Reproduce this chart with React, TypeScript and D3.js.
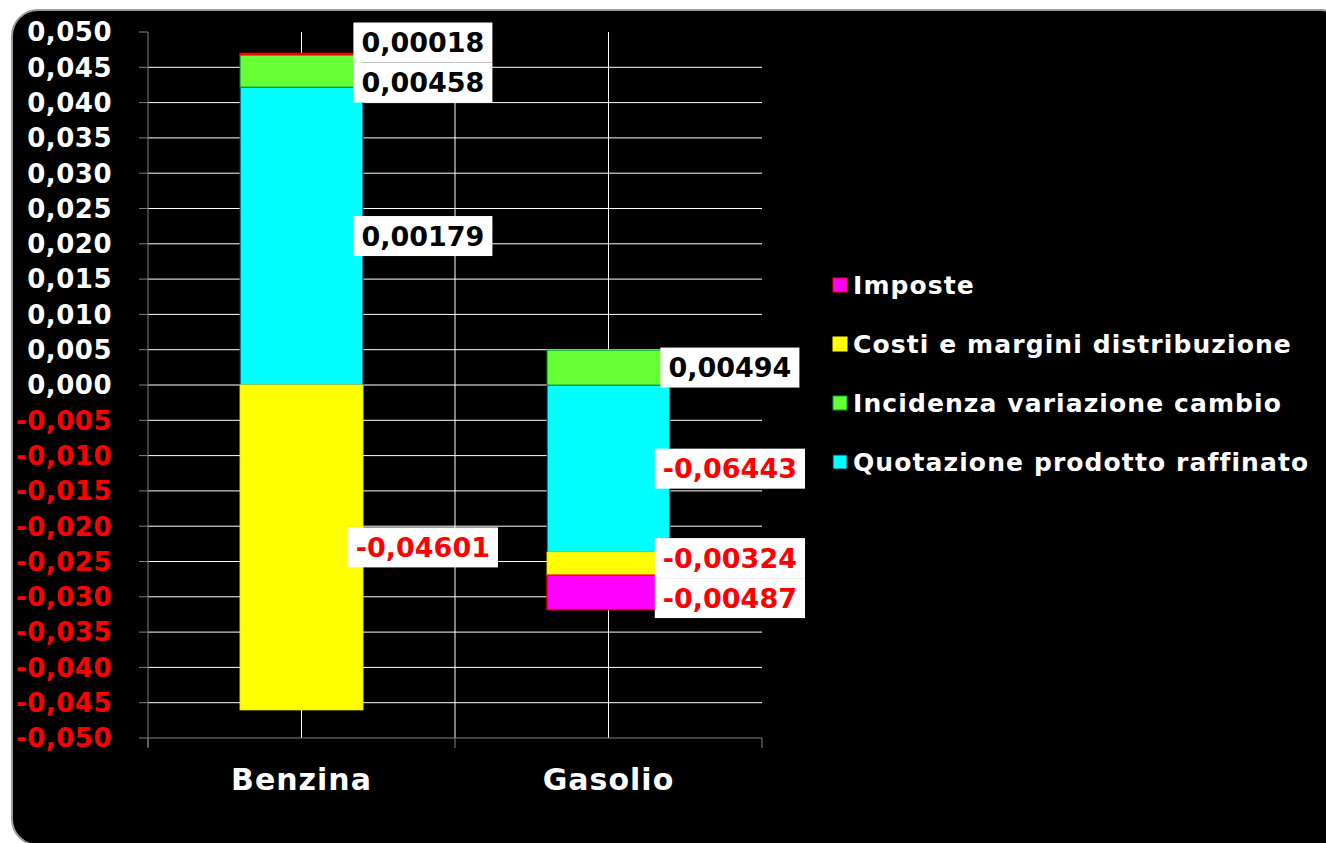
import React from "react";
import * as d3 from "d3";

const categories = ["Benzina", "Gasolio"];
const seriesNames = [
  "Quotazione prodotto raffinato",
  "Incidenza variazione cambio",
  "Costi e margini distribuzione",
  "Imposte",
];
// bar heights as drawn
const quotazione = [0.0422, -0.0237];
const incidenza = [0.00458, 0.00494];
const costi = [-0.04601, -0.00324];
const imposte = [0.00018, -0.00487];
// data label values as printed
const quotazioneLabels = [0.00179, -0.06443];
const incidenzaLabels = [0.00458, 0.00494];
const costiLabels = [-0.04601, -0.00324];
const imposteLabels = [0.00018, -0.00487];
const yTicks = [
  0.05, 0.045, 0.04, 0.035, 0.03, 0.025, 0.02, 0.015, 0.01, 0.005, 0, -0.005,
  -0.01, -0.015, -0.02, -0.025, -0.03, -0.035, -0.04, -0.045, -0.05,
];
const legendOrder = [
  "Imposte",
  "Costi e margini distribuzione",
  "Incidenza variazione cambio",
  "Quotazione prodotto raffinato",
];

const fills: Record<string, string> = {
  "Quotazione prodotto raffinato": "#00ffff",
  "Incidenza variazione cambio": "#66ff33",
  "Costi e margini distribuzione": "#ffff00",
  Imposte: "#ff00ff",
};
const strokes: Record<string, string> = {
  "Quotazione prodotto raffinato": "#103050",
  "Incidenza variazione cambio": "#00a040",
  "Costi e margini distribuzione": "#ffff00",
  Imposte: "#ff0000",
};

const FONT = "'DejaVu Sans', Verdana, sans-serif";

export default function App() {
  const W = 1326;
  const H = 843;
  const left = 148;
  const right = 762;
  const top = 32;
  const bottom = 738;

  const y = d3.scaleLinear().domain([-0.05, 0.05]).range([bottom, top]);
  const x = d3
    .scaleBand<string>()
    .domain(categories)
    .range([left, right])
    .paddingInner(0.6)
    .paddingOuter(0.3);

  const valuesBy: Record<string, number[]> = {
    "Quotazione prodotto raffinato": quotazione,
    "Incidenza variazione cambio": incidenza,
    "Costi e margini distribuzione": costi,
    Imposte: imposte,
  };
  const labelsBy: Record<string, number[]> = {
    "Quotazione prodotto raffinato": quotazioneLabels,
    "Incidenza variazione cambio": incidenzaLabels,
    "Costi e margini distribuzione": costiLabels,
    Imposte: imposteLabels,
  };

  const table = categories.map((c, i) => {
    const row: any = { cat: c };
    seriesNames.forEach((s) => (row[s] = valuesBy[s][i]));
    return row;
  });

  const stacked = d3
    .stack<any>()
    .keys(seriesNames)
    .offset(d3.stackOffsetDiverging)(table);

  const fmt = (v: number) => d3.format(".5f")(v).replace(".", ",").replace("−", "-");
  const tickFmt = (v: number) => d3.format(".3f")(v).replace(".", ",").replace("−", "-");

  // data labels with collision avoidance
  const labels: any[] = [];
  categories.forEach((c, ci) => {
    const group: any[] = [];
    stacked.forEach((layer) => {
      const d = layer[ci];
      const yc = (y(d[0]) + y(d[1])) / 2;
      const v = labelsBy[layer.key][ci];
      group.push({ cat: c, key: layer.key, y: yc, v });
    });
    group.sort((a, b) => a.y - b.y);
    const gap = 40;
    for (let iter = 0; iter < 20; iter++) {
      for (let i = 0; i < group.length - 1; i++) {
        const diff = group[i + 1].y - group[i].y;
        if (diff < gap) {
          const s = (gap - diff) / 2;
          group[i].y -= s;
          group[i + 1].y += s;
        }
      }
    }
    labels.push(...group);
  });

  const hGrid = yTicks.filter((t) => t > -0.05 && t < 0.05);
  const vGrid = [
    x("Benzina")! + x.bandwidth() / 2,
    (left + right) / 2,
    x("Gasolio")! + x.bandwidth() / 2,
  ];

  const labelFont = 27;
  const charW = (s: string) => {
    let w = 0;
    for (const ch of s) w += ch === "," ? 0.38 : ch === "-" ? 0.415 : 0.696;
    return w * labelFont;
  };

  return (
    <svg
      width={W}
      height={H}
      style={{ position: "absolute", left: 0, top: 0, background: "#fff" }}
    >
      <rect x={12} y={10} width={1335} height={835} rx={26} ry={26} fill="#000" stroke="#9a9a9a" strokeWidth={2} />

      {/* gridlines */}
      {hGrid.map((t) => (
        <line key={"h" + t} x1={left} x2={right} y1={y(t)} y2={y(t)} stroke="#ffffff" strokeWidth={1} />
      ))}
      {vGrid.map((vx, i) => (
        <line key={"v" + i} x1={vx} x2={vx} y1={top} y2={bottom} stroke="#ffffff" strokeWidth={1} />
      ))}

      {/* axes */}
      <line x1={left} x2={left} y1={top} y2={bottom + 9} stroke="#808080" strokeWidth={1} />
      {yTicks.map((t) => (
        <line key={"yt" + t} x1={left - 9} x2={left} y1={y(t)} y2={y(t)} stroke="#808080" strokeWidth={1} />
      ))}
      <line x1={left} x2={right} y1={bottom} y2={bottom} stroke="#808080" strokeWidth={1} />
      {[left, (left + right) / 2, right].map((tx, i) => (
        <line key={"xt" + i} x1={tx} x2={tx} y1={bottom} y2={bottom + 10} stroke="#808080" strokeWidth={1} />
      ))}

      {/* y tick labels */}
      {yTicks.map((t) => (
        <text
          key={"yl" + t}
          x={112}
          y={y(t)}
          dy="0.36em"
          textAnchor="end"
          fontFamily={FONT}
          fontWeight="bold"
          fontSize={26}
          letterSpacing={0.5}
          fill={t < 0 ? "#ff0000" : "#ffffff"}
        >
          {tickFmt(t)}
        </text>
      ))}

      {/* bars */}
      {stacked.map((layer) =>
        layer.map((d, i) => {
          const y0 = y(Math.max(d[0], d[1]));
          const y1 = y(Math.min(d[0], d[1]));
          return (
            <rect
              key={layer.key + i}
              x={x(categories[i])!}
              y={y0}
              width={x.bandwidth()}
              height={Math.max(0, y1 - y0)}
              fill={fills[layer.key]}
              stroke={strokes[layer.key]}
              strokeWidth={layer.key === "Imposte" ? 1.5 : 1}
            />
          );
        })
      )}

      {/* category labels */}
      {categories.map((c) => (
        <text
          key={c}
          x={x(c)! + x.bandwidth() / 2}
          y={790}
          textAnchor="middle"
          fontFamily={FONT}
          fontWeight="bold"
          fontSize={30}
          letterSpacing={1}
          fill="#ffffff"
        >
          {c}
        </text>
      ))}

      {/* data labels */}
      {labels.map((l, i) => {
        const txt = fmt(l.v);
        const cx = x(l.cat)! + x.bandwidth() + 60;
        const w = charW(txt) + 16;
        return (
          <g key={"dl" + i}>
            <rect x={cx - w / 2} y={l.y - 20} width={w} height={40} fill="#ffffff" />
            <text
              x={cx}
              y={l.y}
              dy="0.36em"
              textAnchor="middle"
              fontFamily={FONT}
              fontWeight="bold"
              fontSize={labelFont}
              fill={l.v < 0 ? "#ff0000" : "#000000"}
            >
              {txt}
            </text>
          </g>
        );
      })}

      {/* legend */}
      {legendOrder.map((s, i) => {
        const cy = 285 + i * 59;
        return (
          <g key={"lg" + s}>
            <rect x={833} y={cy - 7} width={14} height={14} fill={fills[s]} stroke={strokes[s]} strokeWidth={1} />
            <text
              x={853}
              y={cy}
              dy="0.36em"
              fontFamily={FONT}
              fontWeight="bold"
              fontSize={25}
              letterSpacing={1.1}
              fill="#ffffff"
            >
              {s}
            </text>
          </g>
        );
      })}
    </svg>
  );
}
